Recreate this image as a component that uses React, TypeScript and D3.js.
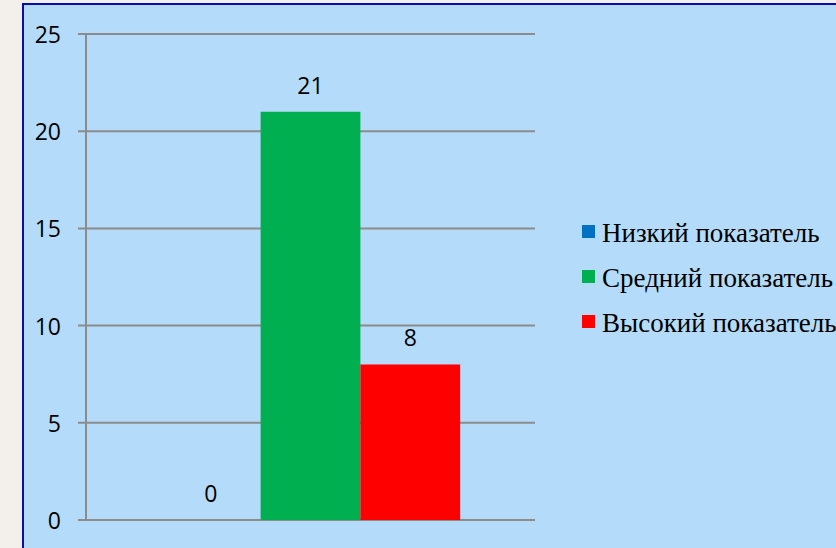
import * as d3 from "d3";

const categories = ["Показатель"];
const seriesNames = ["Низкий показатель", "Средний показатель", "Высокий показатель"];
const seriesValues = [0, 21, 8];
const seriesColors = ["#0070c0", "#00b050", "#ff0000"];
const yTicks = [0, 5, 10, 15, 20, 25];

const W = 836;
const H = 548;

export default function App() {
  const plot = { left: 86, right: 535, top: 34, bottom: 520 };

  const y = d3.scaleLinear().domain([0, 25]).range([plot.bottom, plot.top]);
  const x0 = d3
    .scaleBand<string>()
    .domain(categories)
    .range([plot.left, plot.right])
    .paddingInner(0)
    .paddingOuter(0);
  // Excel-style gap width 150%: bars take 3 / 4.5 of the category
  const groupW = (x0.bandwidth() * 3) / 4.5;
  const x1 = d3
    .scaleBand<string>()
    .domain(seriesNames)
    .range([0, groupW]);

  const cat = categories[0];
  const groupStart = (x0(cat) ?? 0) + (x0.bandwidth() - groupW) / 2;

  const numFont = "'Open Sans', 'DejaVu Sans', sans-serif";

  return (
    <div style={{ position: "fixed", left: 0, top: 0 }}>
      <svg width={W} height={H} viewBox={`0 0 ${W} ${H}`} style={{ display: "block" }}>
        <rect x={0} y={0} width={W} height={H} fill="#f3efeb" />
        {/* Chart area */}
        <rect x={23} y={4} width={W} height={H} fill="#b4dbf9" stroke="#0c0ca8" strokeWidth={2} />

        {/* Gridlines + ticks */}
        {yTicks.map((t) => (
          <g key={t}>
            <line
              x1={plot.left - 8}
              x2={plot.right}
              y1={y(t)}
              y2={y(t)}
              stroke="#8c8c8c"
              strokeWidth={2}
            />
            <text
              x={61}
              y={y(t)}
              textAnchor="end"
              dominantBaseline="central"
              fontFamily={numFont}
              fontSize={23}
              fill="#000"
            >
              {t}
            </text>
          </g>
        ))}
        {/* Y axis */}
        <line x1={plot.left} x2={plot.left} y1={plot.top} y2={plot.bottom} stroke="#8c8c8c" strokeWidth={2} />

        {/* Bars */}
        {seriesNames.map((s, i) => {
          const bx = groupStart + (x1(s) ?? 0);
          const bw = x1.bandwidth();
          const v = seriesValues[i];
          return (
            <g key={s}>
              <rect x={bx} y={y(v)} width={bw} height={y(0) - y(v)} fill={seriesColors[i]} />
              <text
                x={bx + bw / 2}
                y={y(v) - 27}
                textAnchor="middle"
                dominantBaseline="central"
                fontFamily={numFont}
                fontSize={23}
                fill="#000"
              >
                {v}
              </text>
            </g>
          );
        })}

        {/* Legend */}
        {seriesNames.map((s, i) => (
          <g key={s} transform={`translate(582, ${231.5 + i * 45})`}>
            <rect x={0} y={-6.5} width={13} height={13} fill={seriesColors[i]} />
            <text
              x={20}
              y={1}
              dominantBaseline="central"
              fontFamily="'Liberation Serif', 'Times New Roman', serif"
              fontSize={27}
              fill="#000"
            >
              {s}
            </text>
          </g>
        ))}
      </svg>
    </div>
  );
}
